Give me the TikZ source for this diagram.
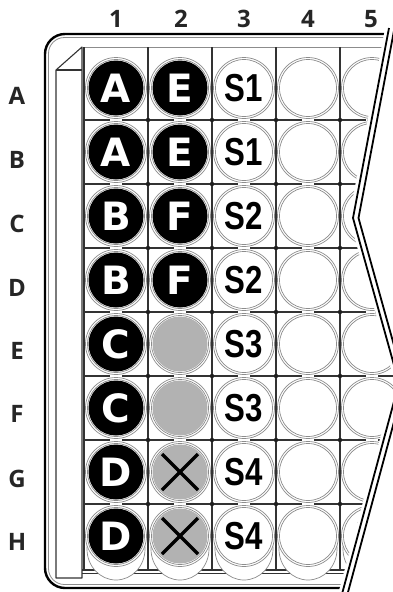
\documentclass[tikz,border=0pt]{standalone}
\usepackage{fontspec}
\usepackage{graphicx}
\newfontfamily\labfont{Open Sans}
\newfontfamily\heavyfont{DejaVu Sans}
\newfontfamily\sfont{Liberation Sans}
\definecolor{ringc}{HTML}{8C8C8C}
\definecolor{gridc}{HTML}{333333}
\definecolor{wellgray}{HTML}{B2B2B2}
\tikzset{
  lab/.style={font=\labfont\bfseries\fontsize{24}{24}\selectfont, anchor=base, inner sep=0pt, text=black!85},
  wellnode/.style={circle, minimum size=55pt, inner sep=0pt, draw=none},
  blackwell/.style={wellnode, fill=black, text=white, font=\heavyfont\bfseries\fontsize{39}{39}\selectfont},
  graywell/.style={wellnode, fill=wellgray},
  whitewell/.style={wellnode, fill=white, font=\sfont\bfseries\fontsize{39}{39}\selectfont},
  ring/.style={draw=ringc, line width=0.7pt},
  gridline/.style={draw=gridc, line width=1.3pt},
  breakline/.style={draw=black, line width=1.8pt},
  xmark/.style={draw=black, line width=3.2pt}
}
\newcommand{\sq}[1]{\scalebox{0.8}[1]{#1}}
\begin{document}
\begin{tikzpicture}[x=1pt,y=-1pt]
\useasboundingbox (0,0) rectangle (393,592);
\clip (0,0) rectangle (393,592);
\fill[white] (0,0) rectangle (393,592);
\begin{scope}
\clip (0,0) -- (390.3,0) -- (385,28) -- (349,218) -- (395,383) -- (338,594) -- (0,594) -- cycle;
% plate border
\draw[line width=2.4pt, rounded corners=20pt] (430,34) -- (45,34) -- (45,588) -- (430,588);
\draw[ring, line width=0.8pt, rounded corners=16pt] (430,37.5) -- (48.5,37.5) -- (48.5,584.5) -- (430,584.5);
% side stripe
\draw[draw=gridc, line width=1.1pt, fill=white, line join=round] (56,70) -- (82,47) -- (82,578) -- (56,578) -- cycle;
\draw[draw=gridc, line width=1.1pt] (56,70) -- (82,70);
% grid
\draw[ring, line width=0.8pt] (84,47) -- (430,47);
\foreach \j in {0,...,5} \draw[gridline] (84+64*\j,47) -- (84+64*\j,571);
\foreach \k in {0,...,6} \draw[gridline] (84,120+64*\k) -- (430,120+64*\k);
\draw[draw=gridc, line width=1.4pt] (82,570) -- (430,570);
\draw[draw=gridc, line width=0.8pt] (82,573.5) -- (430,573.5);
% well bottoms in row H
\foreach \j in {0,...,4} \draw[ring, fill=white] (116+64*\j,549) ellipse [x radius=29, y radius=31];
% necks between rows
\foreach \j in {0,...,4} \foreach \k in {0,...,6}
  \fill[white] (110+64*\j,118+64*\k) rectangle (122+64*\j,122+64*\k);
% well rings
\foreach \j in {0,...,4} \foreach \k in {0,...,7} {
  \draw[ring, fill=white] (116+64*\j,88+64*\k) circle [radius=30.5];
  \draw[ring] (116+64*\j,88+64*\k) circle [radius=28.5];
}
% grid dots
\foreach \j in {1,...,5} \foreach \k in {0,...,6}
  \fill[gridc!60!black] (84+64*\j,120+64*\k) circle [radius=2.2];
% column 1
\node[blackwell] (w1A) at (116,88) {A};
\node[blackwell] (w1B) at (116,152) {A};
\node[blackwell] (w1C) at (116,216) {B};
\node[blackwell] (w1D) at (116,280) {B};
\node[blackwell] (w1E) at (116,344) {C};
\node[blackwell] (w1F) at (116,408) {C};
\node[blackwell] (w1G) at (116,472) {D};
\node[blackwell] (w1H) at (116,536) {D};
% column 2
\node[blackwell] (w2A) at (180,88) {E};
\node[blackwell] (w2B) at (180,152) {E};
\node[blackwell] (w2C) at (180,216) {F};
\node[blackwell] (w2D) at (180,280) {F};
\node[graywell] (w2E) at (180,344) {};
\node[graywell] (w2F) at (180,408) {};
\node[graywell] (w2G) at (180,472) {};
\node[graywell] (w2H) at (180,536) {};
% column 3
\node[whitewell] (w3A) at (244,88) {\sq{S1}};
\node[whitewell] (w3B) at (244,152) {\sq{S1}};
\node[whitewell] (w3C) at (244,216) {\sq{S2}};
\node[whitewell] (w3D) at (244,280) {\sq{S2}};
\node[whitewell] (w3E) at (244,344) {\sq{S3}};
\node[whitewell] (w3F) at (244,408) {\sq{S3}};
\node[whitewell] (w3G) at (244,472) {\sq{S4}};
\node[whitewell] (w3H) at (244,536) {\sq{S4}};
% crossed wells
\draw[xmark] (w2G.center) ++(-18,-18) -- ++(36,36);
\draw[xmark] (w2G.center) ++(18,-18) -- ++(-36,36);
\draw[xmark] (w2H.center) ++(-18,-18) -- ++(36,36);
\draw[xmark] (w2H.center) ++(18,-18) -- ++(-36,36);
\end{scope}
% break lines
\draw[breakline] (389,28) -- (353,218) -- (399,383) -- (342,594);
\draw[breakline] (394.5,28) -- (358.5,218) -- (404.5,383) -- (347.5,594);
% column labels
\node[lab] (c1) at (116,27) {1};
\node[lab] (c2) at (181,27) {2};
\node[lab] (c3) at (244,27) {3};
\node[lab] (c4) at (308,27) {4};
\node[lab] (c5) at (371,27) {5};
% row labels
\node[lab] (rA) at (17,104) {A};
\node[lab] (rB) at (17,168) {B};
\node[lab] (rC) at (17,232) {C};
\node[lab] (rD) at (17,296) {D};
\node[lab] (rE) at (17,359) {E};
\node[lab] (rF) at (17,422) {F};
\node[lab] (rG) at (17,487) {G};
\node[lab] (rH) at (17,550) {H};
\end{tikzpicture}
\end{document}
